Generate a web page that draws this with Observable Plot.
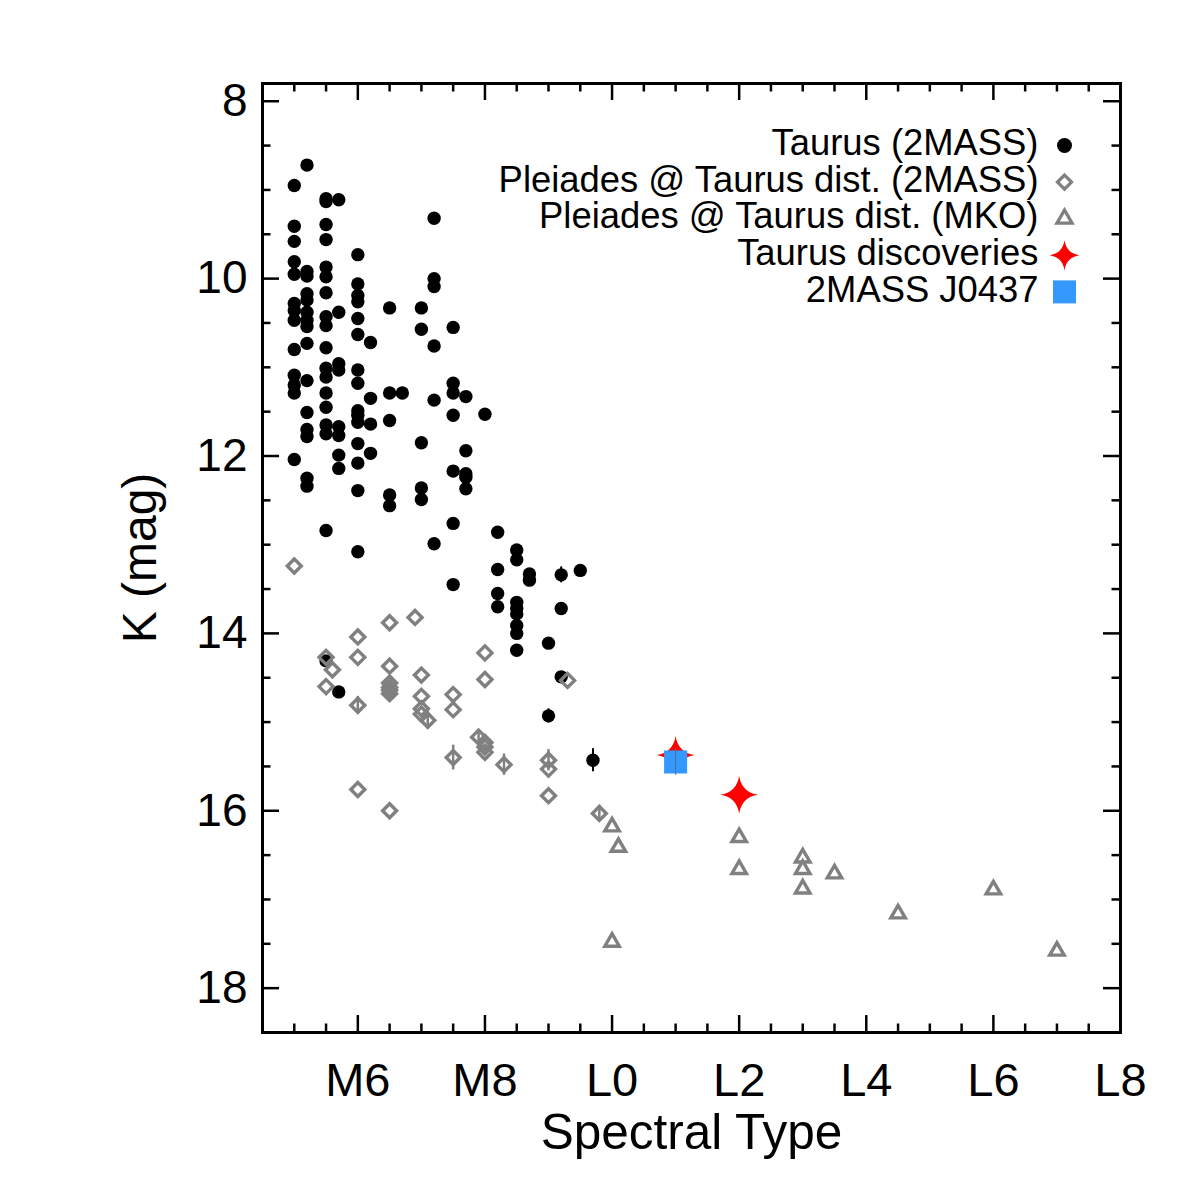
<!DOCTYPE html>
<html><head><meta charset="utf-8">
<script src="https://cdn.jsdelivr.net/npm/d3@7"></script>
<script src="https://cdn.jsdelivr.net/npm/@observablehq/plot@0.6"></script>
<style>html,body{margin:0;padding:0;background:#fff;} #chart{width:1200px;height:1200px;}</style>
</head><body><div id="chart"></div>
<script>
// Spectral type numeric: M5=15, M6=16, ..., L0=20, L2=22, ... L8=28
// [spectral type, K mag, error]
const taurus = [
  [15.0,8.95],[15.0,9.41],[15.0,9.58],[15.0,9.81],[15.0,9.95],[15.0,10.28],[15.0,10.36],[15.0,10.47],[15.0,10.80],[15.0,11.09],[15.0,11.20],[15.0,11.29],[15.0,12.04],
  [15.2,8.72],[15.2,9.92],[15.2,9.97],[15.2,10.17],[15.2,10.24],[15.2,10.38],[15.2,10.47],[15.2,10.54],[15.2,10.73],[15.2,11.15],[15.2,11.51],[15.2,11.70],[15.2,11.78],[15.2,12.25],[15.2,12.34],
  [15.5,9.10],[15.5,9.13],[15.5,9.39],[15.5,9.56],[15.5,9.87],[15.5,9.98],[15.5,10.16],[15.5,10.43],[15.5,10.53],[15.5,10.78],[15.5,11.01],[15.5,11.11],[15.5,11.29],[15.5,11.45],[15.5,11.65],[15.5,11.75],[15.5,12.84],[15.5,14.31],
  [15.7,9.11],[15.7,10.38],[15.7,10.96],[15.7,11.03],[15.7,11.67],[15.7,11.77],[15.7,11.99],[15.7,12.14],[15.7,14.66,0.05],
  [16.0,9.73],[16.0,10.06],[16.0,10.19],[16.0,10.26],[16.0,10.45],[16.0,10.63],[16.0,11.03],[16.0,11.18],[16.0,11.49],[16.0,11.54],[16.0,11.62],[16.0,11.86],[16.0,12.08],[16.0,12.39],[16.0,13.08],
  [16.2,10.72],[16.2,11.35],[16.2,11.64],[16.2,11.97],
  [16.5,10.33],[16.5,11.29],[16.5,11.60],[16.5,12.44],[16.5,12.56],
  [16.7,11.29],
  [17.0,10.33],[17.0,10.57],[17.0,11.85],[17.0,12.36],[17.0,12.49],
  [17.2,9.32],[17.2,10.00],[17.2,10.09],[17.2,10.76],[17.2,11.37],[17.2,12.99],
  [17.5,10.55],[17.5,11.18],[17.5,11.29],[17.5,11.54],[17.5,12.17],[17.5,12.76],[17.5,13.45],
  [17.7,11.33],[17.7,11.94],[17.7,12.20],[17.7,12.24],[17.7,12.37],
  [18.0,11.53],
  [18.2,12.86],[18.2,13.28],[18.2,13.55],[18.2,13.70],
  [18.5,13.06],[18.5,13.17],[18.5,13.65],[18.5,13.72],[18.5,13.78],[18.5,13.91],[18.5,14.00],[18.5,14.19],
  [18.7,13.33],[18.7,13.40],
  [19.0,14.11],[19.0,14.93,0.08],
  [19.2,13.34,0.09],[19.2,13.72],[19.2,14.49],
  [19.5,13.29],
  [19.7,15.43,0.13]
];
const pleiades2mass = [
  [15.0,13.24],[16.9,13.82],[16.5,13.88],[16.0,14.04],[15.5,14.27],[16.0,14.27],[15.6,14.41],[16.5,14.37],
  [18.0,14.22],[17.0,14.47],[15.5,14.60],[16.5,14.56],[16.5,14.61],[16.5,14.64],[16.5,14.68],[18.0,14.52],
  [19.3,14.53],[16.0,14.81,0.10],[17.0,14.71],[17.5,14.69],[17.0,14.85],[17.0,14.91],[17.1,14.98,0.10],
  [17.5,14.86],[17.9,15.17,0.08],[18.0,15.23],[18.0,15.28],[18.0,15.34],[17.5,15.40,0.14],[18.3,15.48,0.12],
  [19.0,15.43,0.12],[19.0,15.53],[16.0,15.76],[19.0,15.83],[16.5,16.00],[19.8,16.03,0.09]
];
const pleiadesMKO = [
  [20.0,16.18],[20.1,16.41],[20.0,17.48],[22.0,16.30],[22.0,16.66],[23.0,16.53],[23.0,16.66],[23.0,16.88],
  [23.5,16.71],[24.5,17.16],[26.0,16.89],[27.0,17.58]
];
const discoveries = [[21.0,15.37],[22.0,15.82]];
const j0437 = [[21.0,15.45,0.15]];

const xMajor = [16,18,20,22,24,26,28];
const xLabels = ["M6","M8","L0","L2","L4","L6","L8"];
const xMinor = [15,15.5,16.5,17,17.5,18.5,19,19.5,20.5,21,21.5,22.5,23,23.5,24.5,25,25.5,26.5,27,27.5];
const yMajor = [8,10,12,14,16,18];
const yMinor = [8.5,9,9.5,10.5,11,11.5,12.5,13,13.5,14.5,15,15.5,16.5,17,17.5];
const legendLabels = ["Taurus (2MASS)","Pleiades @ Taurus dist. (2MASS)","Pleiades @ Taurus dist. (MKO)","Taurus discoveries","2MASS J0437"];

const GRAY = "#808080", RED = "#ff0000", BLUE = "#3399ff";

// four-pointed star with concave sides
const star4 = {
  draw(context, size) {
    const R = Math.sqrt(size / Math.PI);
    const k = R * 0.13;
    context.moveTo(0, -R);
    context.quadraticCurveTo(k, -k, R, 0);
    context.quadraticCurveTo(k, k, 0, R);
    context.quadraticCurveTo(-k, k, -R, 0);
    context.quadraticCurveTo(-k, -k, 0, -R);
    context.closePath();
  }
};

const W = 1200, H = 1200, mL = 262, mR = 80, mT = 83, mB = 168;
const innerW = W - mL - mR, innerH = H - mT - mB;
const majLen = 17, minLen = 8.5;

const err = arr => arr.filter(d => d[2]);

function ticksX(vals, len) {
  return [
    Plot.tickX(vals, {x: d => d, insetTop: innerH - len, stroke: "black", strokeWidth: 2.5}),
    Plot.tickX(vals, {x: d => d, insetBottom: innerH - len, stroke: "black", strokeWidth: 2.5})
  ];
}
function ticksY(vals, len) {
  return [
    Plot.tickY(vals, {y: d => d, insetRight: innerW - len, stroke: "black", strokeWidth: 2.5}),
    Plot.tickY(vals, {y: d => d, insetLeft: innerW - len, stroke: "black", strokeWidth: 2.5})
  ];
}

const legendSyms = [
  {fill: "black", stroke: "none", symbol: "circle", r: 7.5},
  {fill: "none", stroke: GRAY, symbol: "diamond2", r: 6.3, strokeWidth: 3.3},
  {fill: "none", stroke: GRAY, symbol: "triangle2", r: 7.2, strokeWidth: 3.3},
  {fill: RED, stroke: "none", symbol: star4, r: 15},
  {fill: BLUE, stroke: "none", symbol: "square", r: 13}
];
const legendMarks = legendLabels.flatMap((lab, i) => [
  Plot.text([lab], {text: d => d, frameAnchor: "top-right", dx: -82, dy: 60 + i * 36.6,
    textAnchor: "end", lineAnchor: "middle", fontSize: 36.4, fill: "black"}),
  Plot.dot([lab], {frameAnchor: "top-right", dx: -56, dy: 62 + i * 36.6, ...legendSyms[i]})
]);

const chart = Plot.plot({
  width: W, height: H,
  marginLeft: mL, marginRight: mR, marginTop: mT, marginBottom: mB,
  style: {fontFamily: "'Liberation Sans', Arial, Helvetica, sans-serif", background: "white", color: "black"},
  x: {domain: [14.5, 28], axis: null},
  y: {domain: [18.5, 7.8], axis: null},
  marks: [
    // Taurus error bars and points
    Plot.ruleX(err(taurus), {x: d => d[0], y1: d => d[1] - d[2], y2: d => d[1] + d[2], stroke: "black", strokeWidth: 2}),
    Plot.dot(taurus, {x: d => d[0], y: d => d[1], r: 6.7, fill: "black", stroke: "none"}),
    // Pleiades 2MASS
    Plot.ruleX(err(pleiades2mass), {x: d => d[0], y1: d => d[1] - d[2], y2: d => d[1] + d[2], stroke: GRAY, strokeWidth: 2.5}),
    Plot.dot(pleiades2mass, {x: d => d[0], y: d => d[1], symbol: "diamond2", r: 6.3, fill: "none", stroke: GRAY, strokeWidth: 3.4}),
    // Pleiades MKO
    Plot.dot(pleiadesMKO, {x: d => d[0], y: d => d[1], symbol: "triangle2", r: 6.9, fill: "none", stroke: GRAY, strokeWidth: 3.4}),
    // Discoveries
    Plot.dot(discoveries, {x: d => d[0], y: d => d[1], symbol: star4, r: 19, fill: RED, stroke: "none"}),
    // 2MASS J0437
    Plot.dot(j0437, {x: d => d[0], y: d => d[1], symbol: "square", r: 13, fill: BLUE, stroke: "none"}),
    Plot.ruleX(j0437, {x: d => d[0], y1: d => d[1] - d[2], y2: d => d[1] + d[2], stroke: "#4a6f99", strokeWidth: 1}),
    // frame and ticks
    Plot.frame({stroke: "black", strokeWidth: 3}),
    ...ticksX(xMajor, majLen), ...ticksX(xMinor, minLen),
    ...ticksY(yMajor, majLen), ...ticksY(yMinor, minLen),
    // tick labels
    Plot.text(xMajor, {x: d => d, text: (d, i) => xLabels[i], frameAnchor: "bottom", dy: 48, lineAnchor: "middle", fontSize: 47, fill: "black"}),
    Plot.text(yMajor, {y: d => d, text: d => String(d), frameAnchor: "left", dx: -15, textAnchor: "end", lineAnchor: "middle", fontSize: 46, fill: "black"}),
    // axis titles
    Plot.text(["Spectral Type"], {text: d => d, frameAnchor: "bottom", dy: 101, textAnchor: "middle", lineAnchor: "middle", fontSize: 49.5, fill: "black"}),
    Plot.text(["K (mag)"], {text: d => d, frameAnchor: "left", dx: -122, rotate: -90, textAnchor: "middle", lineAnchor: "middle", fontSize: 48, fill: "black"}),
    // legend
    ...legendMarks
  ]
});
document.getElementById("chart").appendChild(chart);
</script>
</body></html>
